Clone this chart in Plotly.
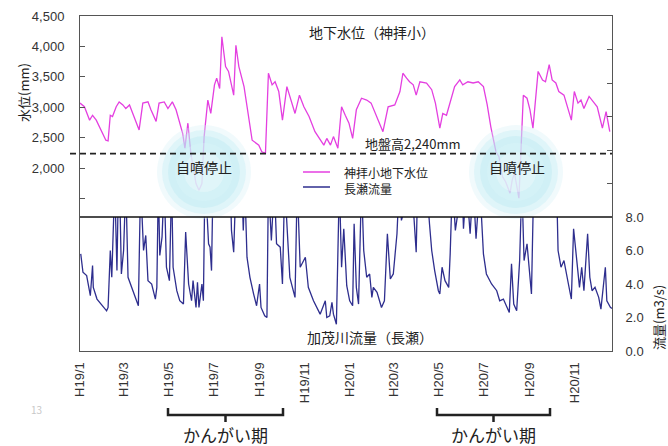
import plotly.graph_objects as go
import pandas as pd

# ---------------- data ----------------
START = "2007-01-01"

# groundwater level at 神拝小 (mm); days counted from START
gw_day = [0, 6, 13, 17, 22, 28, 35, 38, 41, 44, 49, 53, 58, 62, 67, 73, 80, 85, 92, 96,
          103, 107, 114, 119, 125, 130, 134, 139, 142, 146, 150, 157, 161, 165, 168, 173,
          177, 182, 185, 189, 192, 197, 201, 208, 211, 215, 222, 226, 233, 242, 246, 251,
          255, 260, 264, 269, 274, 280, 287, 291, 297, 303, 310, 318, 330, 334, 339, 343,
          349, 354, 359, 364, 369, 374, 381, 388, 394, 401, 410, 417, 426, 433, 437, 442,
          446, 451, 455, 460, 469, 476, 481, 487, 491, 496, 503, 507, 514, 518, 525, 532,
          539, 546, 551, 556, 563, 567, 572, 576, 582, 585, 588, 592, 594, 597, 600, 605,
          609, 613, 617, 620, 626, 630, 635, 639, 644, 648, 655, 660, 665, 669, 674, 678,
          682, 689, 693, 700, 707, 712, 717]
gw_mm = [3070, 3010, 2790, 2870, 2790, 2630, 2460, 2450, 2870, 2850, 3010, 3090, 3040, 2980,
         3040, 2850, 2630, 3070, 3090, 2960, 2770, 3070, 3090, 2980, 3090, 2960, 2790, 2570,
         2330, 2740, 2250, 1750, 1640, 1750, 2520, 3120, 2900, 3370, 3480, 3310, 4160, 3670,
         3590, 3200, 4020, 3670, 3340, 3010, 2460, 2380, 2270, 2245, 3560, 3370, 3420, 3260,
         2790, 3340, 3070, 2900, 3200, 3010, 2850, 2600, 2380, 2490, 2380, 2520, 2330, 3010,
         2870, 2740, 2490, 2960, 3150, 3120, 3070, 2850, 2600, 3010, 3040, 3260, 3560, 3480,
         3420, 3370, 3200, 3420, 3400, 3290, 3070, 2660, 2900, 2870, 3180, 3340, 3450, 3370,
         3420, 3400, 3420, 3340, 3050, 2680, 2270, 2190, 1860, 1780, 1590, 1810, 1920, 1640,
         1510, 2350, 3200, 3150, 2960, 2660, 3180, 3590, 3450, 3420, 3700, 3450, 3400, 3260,
         3200, 2980, 2790, 3260, 3070, 3120, 2980, 3180, 3120, 3010, 2660, 2930, 2600]

# river flow at 長瀬 (m3/s); peaks run off the top of the 0-8 panel
flow_day = [1, 2, 4, 9, 14, 17, 18, 23, 29, 36, 38, 41, 43, 45, 47, 50, 52, 54, 56, 59, 62,
            65, 70, 74, 79, 82, 86, 89, 92, 97, 102, 104, 106, 108, 111, 114, 117, 121, 124,
            126, 131, 135, 140, 143, 147, 151, 153, 157, 159, 161, 165, 167, 169, 171, 174,
            176, 178, 180, 192, 204, 205, 208, 211, 214, 219, 221, 223, 226, 230, 235, 239,
            243, 245, 250, 253, 255, 259, 263, 266, 271, 274, 277, 284, 291, 294, 298, 305,
            309, 316, 325, 332, 334, 338, 341, 343, 347, 351, 354, 357, 361, 365, 369, 371,
            374, 377, 381, 384, 388, 392, 395, 397, 402, 408, 412, 416, 420, 424, 429, 432,
            435, 442, 449, 455, 457, 462, 469, 473, 476, 480, 485, 487, 490, 494, 499, 501,
            504, 508, 512, 517, 519, 523, 528, 532, 536, 541, 546, 550, 557, 564, 568, 573,
            578, 581, 584, 587, 591, 595, 598, 601, 605, 608, 611, 614, 623, 632, 641, 645,
            647, 651, 655, 661, 665, 668, 672, 676, 679, 682, 687, 690, 693, 697, 702, 705,
            711, 713, 718, 722]
flow_m3s = [5.8, 5.5, 4.7, 4.5, 3.3, 5.1, 3.8, 3.1, 2.8, 2.4, 2.6, 6.0, 4.4, 6.0, 10, 4.8, 10,
            9, 4.6, 6.0, 10, 4.4, 3.8, 3.2, 2.7, 10, 6.0, 6.9, 4.2, 4.0, 3.1, 3.8, 10, 5.7, 6.8,
            10, 5.0, 4.2, 10, 5.0, 3.6, 3.0, 2.8, 7.1, 4.0, 3.0, 4.2, 2.6, 4.1, 2.6, 4.0, 3.0,
            10, 9, 6.4, 6.2, 4.8, 10, 10, 9, 7.2, 5.9, 10, 8.5, 10, 7.2, 10, 5.6, 4.4, 3.4, 2.7,
            4.0, 2.6, 2.1, 2.0, 10, 6.6, 10, 6.4, 6.2, 4.0, 10, 4.4, 3.2, 10, 5.0, 5.6, 3.8, 3.0,
            2.2, 3.0, 2.0, 2.1, 2.9, 2.2, 1.6, 10, 5.0, 7.3, 3.9, 3.0, 2.7, 7.6, 3.8, 2.8, 10,
            6.0, 4.4, 4.6, 3.2, 3.8, 3.5, 2.6, 3.0, 7.0, 4.3, 4.6, 7.0, 10, 7.8, 9, 10, 5.9, 10,
            9, 10, 7.6, 6.0, 4.8, 3.6, 3.4, 5.0, 4.2, 3.8, 5.8, 10, 7.2, 9, 10, 7.3, 10, 7.0, 10,
            6.7, 10, 5.8, 4.6, 4.0, 3.6, 3.0, 3.1, 2.6, 2.3, 5.2, 2.8, 2.4, 5.4, 10, 5.4, 6.4,
            5.0, 3.4, 10, 9.5, 10, 9, 10, 6.0, 5.0, 5.4, 4.0, 3.1, 7.3, 5.4, 3.8, 5.0, 3.6, 7.0,
            4.4, 3.6, 3.8, 3.2, 2.5, 5.0, 3.0, 2.6, 2.5]

ground_level_mm = 2240

x_tick_dates = ["2007-01-01", "2007-02-01", "2007-03-01", "2007-04-01", "2007-05-01",
                "2007-06-01", "2007-07-01", "2007-08-01", "2007-09-01", "2007-10-01",
                "2007-11-01", "2007-12-01", "2008-01-01", "2008-02-01", "2008-03-01",
                "2008-04-01", "2008-05-01", "2008-06-01", "2008-07-01", "2008-08-01",
                "2008-09-01", "2008-10-01", "2008-11-01", "2008-12-01"]
x_tick_labels = ["H19/1", "", "H19/3", "", "H19/5", "", "H19/7", "", "H19/9", "", "H19/11", "",
                 "H20/1", "", "H20/3", "", "H20/5", "", "H20/7", "", "H20/9", "", "H20/11", ""]

left_tick_vals = [-1000, -500, 0, 500, 1000, 1500, 2000, 2500, 3000, 3500, 4000, 4500]
left_tick_text = ["", "", "", "", "", "", "2,000", "2,500", "3,000", "3,500", "4,000", "4,500"]
right_tick_vals = [0, 2, 4, 6, 8, 10, 12, 14, 16, 18, 20]
right_tick_text = ["0.0", "2.0", "4.0", "6.0", "8.0", "", "", "", "", "", ""]

# ---------------- figure ----------------
W, H = 668, 446
L, R, T, B = 80, 56, 16, 95
PW, PH = W - L - R, H - T - B


def px(xp):
    return (xp - L) / PW


def py(yp):
    return (H - B - yp) / PH


start = pd.Timestamp(START)
gw_x = [start + pd.Timedelta(days=d) for d in gw_day]
flow_x = [start + pd.Timedelta(days=d) for d in flow_day]

MAGENTA = "#e43fe0"
NAVY = "#2e2e8e"
INK = "#222222"
AX = "#555555"

fig = go.Figure()
fig.add_trace(go.Scatter(x=gw_x, y=gw_mm, mode="lines", yaxis="y",
                         line=dict(color=MAGENTA, width=1.3), name="神拝小地下水位",
                         showlegend=False))
fig.add_trace(go.Scatter(x=flow_x, y=flow_m3s, mode="lines", yaxis="y3",
                         line=dict(color=NAVY, width=1.3), name="長瀬流量",
                         showlegend=False))

shapes = []
# soft glow discs behind the 自噴停止 labels
for cx, cy in [(204, 172), (516, 172)]:
    for r, col in [(47, "rgba(215,242,247,0.35)"), (42, "rgba(190,234,243,0.35)"),
                   (36, "rgba(175,228,240,0.30)"), (29, "rgba(220,245,250,0.35)"),
                   (20, "rgba(245,252,253,0.35)")]:
        shapes.append(dict(type="circle", xref="paper", yref="paper",
                           x0=px(cx - r), x1=px(cx + r), y0=py(cy + r), y1=py(cy - r),
                           line=dict(width=0), fillcolor=col, layer="above"))
# panel divider at 8.0 m3/s
shapes.append(dict(type="line", xref="paper", yref="y2", x0=0, x1=1, y0=8, y1=8,
                   line=dict(color="#111111", width=1.3)))
# ground level dashed line
shapes.append(dict(type="line", xref="paper", yref="y", x0=px(70), x1=1,
                   y0=ground_level_mm, y1=ground_level_mm,
                   line=dict(color="#222222", width=1.6, dash="6px,4px")))
# legend samples
shapes.append(dict(type="line", xref="paper", yref="paper", x0=px(303), x1=px(330),
                   y0=py(172), y1=py(172), line=dict(color=MAGENTA, width=1.5)))
shapes.append(dict(type="line", xref="paper", yref="paper", x0=px(303), x1=px(330),
                   y0=py(187), y1=py(187), line=dict(color=NAVY, width=1.5)))
# irrigation-period brackets
for x0b, x1b in [(168, 283), (437, 550)]:
    xm = (x0b + x1b) / 2
    path = (f"M {px(x0b)},{py(408)} L {px(x0b)},{py(415)} L {px(x1b)},{py(415)} "
            f"L {px(x1b)},{py(408)} M {px(xm)},{py(415)} L {px(xm)},{py(422)}")
    shapes.append(dict(type="path", xref="paper", yref="paper", path=path,
                       line=dict(color=INK, width=2.5)))

CJK = "Noto Sans CJK JP, Liberation Sans, sans-serif"


def ann(text, xp, yp, size, **kw):
    d = dict(text=text, xref="paper", yref="paper", x=px(xp), y=py(yp), showarrow=False,
             font=dict(size=size, color=INK, family=CJK), xanchor="center", yanchor="middle")
    d.update(kw)
    return d


annotations = [
    ann("地下水位（神拝小）", 372, 32, 14),
    ann("加茂川流量（長瀬）", 370, 337, 14),
    ann("地盤高2,240mm", 413, 143, 13),
    ann("自噴停止", 204, 167, 14),
    ann("自噴停止", 517, 167, 14),
    ann("神拝小地下水位", 342, 172, 12, xanchor="left"),
    ann("長瀬流量", 342, 188, 12, xanchor="left"),
    ann("かんがい期", 225, 434, 17),
    ann("かんがい期", 493, 434, 17),
    ann("水位(mm)", 23, 93, 13, textangle=-90),
    ann("流量(m3/s)", 658, 318, 13, textangle=-90),
    ann("13", 36, 409, 10, font=dict(size=10, color="#c8c8c8", family=CJK)),
]

tickfont = dict(size=13, color="#333333", family="Liberation Sans, Arial, sans-serif")

fig.update_layout(
    width=W, height=H,
    margin=dict(l=L, r=R, t=T, b=B, autoexpand=False),
    paper_bgcolor="white", plot_bgcolor="white",
    font=dict(family=CJK, color=INK),
    showlegend=False,
    xaxis=dict(type="date", range=["2007-01-01", "2008-12-21"],
               tickmode="array", tickvals=x_tick_dates, ticktext=x_tick_labels,
               ticks="inside", ticklen=5, tickcolor=AX, tickangle=-90,
               tickfont=tickfont, ticklabelstandoff=5,
               showline=True, linecolor=AX, linewidth=1, mirror=True,
               showgrid=False, zeroline=False),
    yaxis=dict(range=[-1000, 4500], domain=[0, 1],
               tickmode="array", tickvals=left_tick_vals, ticktext=left_tick_text,
               ticks="inside", ticklen=5, tickcolor=AX, tickfont=tickfont,
               ticklabelstandoff=12,
               showline=True, linecolor=AX, linewidth=1,
               showgrid=False, zeroline=False),
    yaxis2=dict(range=[0, 20], overlaying="y", side="right", anchor="x",
                tickmode="array", tickvals=right_tick_vals, ticktext=right_tick_text,
                ticks="inside", ticklen=5, tickcolor=AX, tickfont=tickfont,
                ticklabelstandoff=10,
                showline=True, linecolor=AX, linewidth=1,
                showgrid=False, zeroline=False),
    yaxis3=dict(range=[0, 8], domain=[0, 0.4], anchor="x", visible=False,
                showgrid=False, zeroline=False),
    shapes=shapes,
    annotations=annotations,
)

fig.write_html("out.html", config={"displayModeBar": False},
               post_script="document.body.style.margin='0';document.body.style.padding='0';")
